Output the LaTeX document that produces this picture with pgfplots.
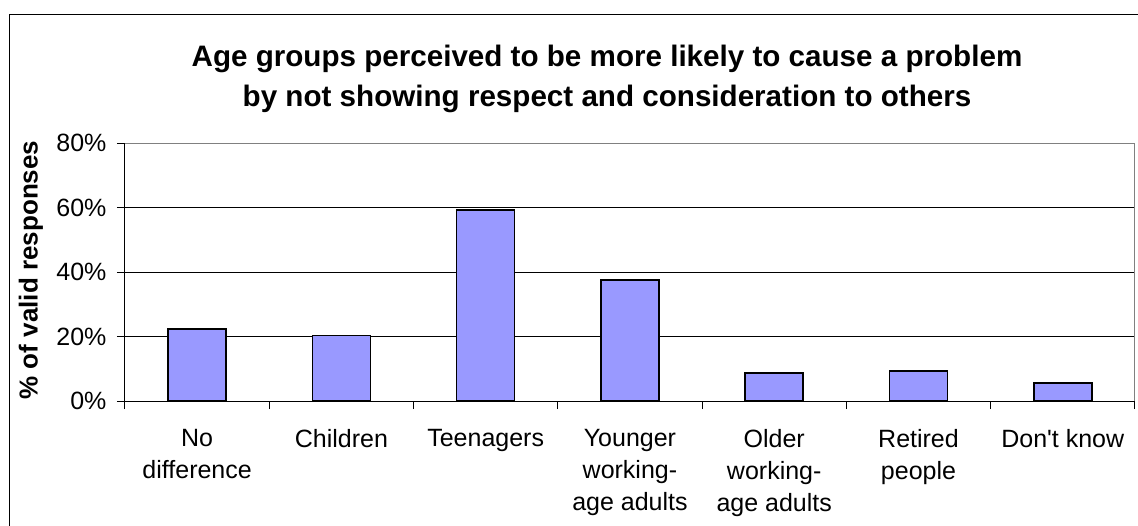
\documentclass[border=0pt]{standalone}
\usepackage{fontspec}
\setmainfont{Liberation Sans}
\usepackage{pgfplots}
\pgfplotsset{compat=1.18}
\definecolor{barblue}{HTML}{9999FF}
\begin{document}
\begin{tikzpicture}[x=1pt,y=1pt]
\useasboundingbox (0,0) rectangle (1138,525);
% chart frame
\draw[line width=1pt] (9,-2) -- (9,510) -- (1140,510);
\node[font=\bfseries\fontsize{29.6}{40}\selectfont, align=center] at (607,446)
  {Age groups perceived to be more likely to cause a problem\\by not showing respect and consideration to others};
\node[rotate=90, font=\bfseries\fontsize{26}{30}\selectfont] at (31,255) {\% of valid responses};
\begin{axis}[
	at={(125pt,124pt)}, anchor=south west,
	scale only axis, width=1010pt, height=258pt,
	ybar, bar width=58pt,
	xmin=-0.5, xmax=6.5, ymin=0, ymax=80,
	axis x line*=bottom, axis y line*=left,
	axis line style={line width=1pt, -},
	tick align=outside, major tick length=8pt,
	tick style={black, line width=1pt},
	xtick={-0.5,0.5,...,6.5}, xticklabels={},
	extra x ticks={0,1,...,6},
	extra x tick labels={{No\\difference},{Children},{Teenagers},{Younger\\working-\\age adults},{Older\\working-\\age adults},{Retired\\people},{Don\textquotesingle t know}},
	extra x tick style={major tick length=0pt},
	xticklabel style={align=center, font=\fontsize{25}{32}\selectfont, yshift=-25pt},
	ytick={0,20,...,80}, yticklabels={0\%,20\%,40\%,60\%,80\%},
	yticklabel style={font=\fontsize{25}{32}\selectfont, xshift=-7pt},
	ymajorgrids, grid style={black, line width=1pt},
	]
	\addplot[fill=barblue, draw=black, line width=1.6pt] coordinates {
		(0,22.3) (1,20.3) (2,59.3) (3,37.6) (4,8.6) (5,9.3) (6,5.6)};
	% plot area border on top and right
	\draw[gray, line width=1pt] (rel axis cs:0,1) -- (rel axis cs:1,1) -- (rel axis cs:1,0);
\end{axis}
\end{tikzpicture}
\end{document}
